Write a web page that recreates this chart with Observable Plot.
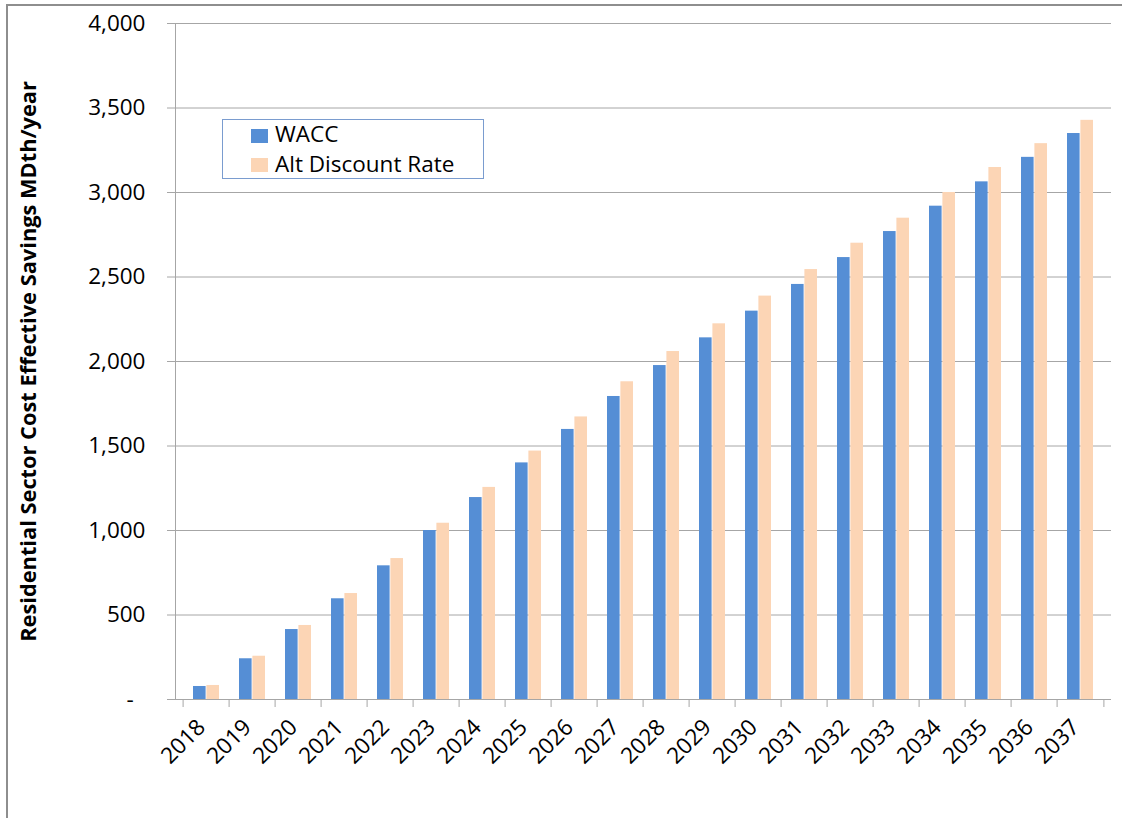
<!DOCTYPE html>
<html>
<head>
<meta charset="utf-8">
<script src="https://cdn.jsdelivr.net/npm/d3@7"></script>
<script src="https://cdn.jsdelivr.net/npm/@observablehq/plot@0.6"></script>
<style>
  body { margin: 0; background: #fff; font-family: "Open Sans", sans-serif; }
  #wrap { position: relative; width: 1122px; height: 818px; overflow: hidden; }
  #border { position: absolute; left: 6px; top: 4px; width: 1200px; height: 900px; border: 2px solid #8e8e8e; }
  #chart { position: absolute; left: 0; top: 0; }
  #legend { position: absolute; left: 222px; top: 119px; width: 260px; height: 58px; border: 1px solid #7a9ccf; background: #fff; font-size: 22.5px; line-height: 23px; color: #000; }
  .sw { position: absolute; left: 28px; width: 17px; height: 14px; }
  .lab { position: absolute; left: 52px; white-space: nowrap; }
</style>
</head>
<body>
<div id="wrap">
  <div id="border"></div>
  <div id="chart"></div>
  <div id="legend"></div>
</div>
<script>
const years = [2018, 2019, 2020, 2021, 2022, 2023, 2024, 2025, 2026, 2027,
               2028, 2029, 2030, 2031, 2032, 2033, 2034, 2035, 2036, 2037];
const wacc = [77, 241, 414, 596, 791, 1000, 1195, 1400, 1598, 1793,
              1976, 2140, 2298, 2456, 2615, 2769, 2919, 3063, 3208, 3349];
const altRate = [83, 256, 438, 627, 834, 1043, 1255, 1470, 1672, 1880,
                 2059, 2223, 2387, 2544, 2700, 2848, 3000, 3148, 3289, 3427];
const seriesNames = ["WACC", "Alt Discount Rate"];
const seriesColors = ["#558ed5", "#fcd5b5"];
const yTicks = [0, 500, 1000, 1500, 2000, 2500, 3000, 3500, 4000];
const yTitle = "Residential Sector Cost Effective Savings MDth/year";

const data = years.map((y, i) => ({year: y, wacc: wacc[i], alt: altRate[i]}));
const fmt = d3.format(",");
const half = 23.4;

const chart = Plot.plot({
  width: 1122,
  height: 818,
  marginLeft: 175,
  marginRight: 11,
  marginTop: 23,
  marginBottom: 119,
  style: {fontFamily: "'Open Sans', sans-serif", fontSize: "22.5px", color: "#000", background: "transparent"},
  x: {domain: years, padding: 0, axis: null},
  y: {domain: [0, 4000], axis: null},
  marks: [
    Plot.gridY(yTicks, {stroke: "#a6a6a6", strokeOpacity: 1}),
    Plot.frame({anchor: "left", stroke: "#a6a6a6"}),
    Plot.barY(data, {x: "year", y: "wacc", fill: seriesColors[0], insetLeft: 10, insetRight: half}),
    Plot.barY(data, {x: "year", y: "alt", fill: seriesColors[1], insetLeft: half, insetRight: 10}),
    Plot.ruleY([0], {stroke: "#a6a6a6"}),
    Plot.axisY(yTicks, {
      label: null, tickSize: 8, tickPadding: 22, stroke: "#a6a6a6", fill: "#000", fontSize: 22.5,
      tickFormat: d => d === 0 ? "-\u00a0\u00a0" : fmt(d)
    }),
    Plot.axisX(years, {label: null, tickSize: 8, dx: -half, stroke: "#a6a6a6", tickFormat: () => ""}),
    Plot.axisX([years[years.length - 1]], {label: null, tickSize: 8, dx: half, stroke: "#a6a6a6", tickFormat: () => ""}),
    Plot.axisX(years, {label: null, tickSize: 0, tickPadding: 24, dx: -5, tickRotate: -45, fill: "#000", fontSize: 22.5, tickFormat: d => `${d}`}),
    Plot.text([yTitle], {frameAnchor: "left", textAnchor: "middle", rotate: -90, dx: -146, fontWeight: "bold", fontSize: 21.8, fill: "#000"})
  ]
});
d3.select("#chart").append(() => chart);

// legend
const legend = d3.select("#legend");
seriesNames.forEach((name, i) => {
  legend.append("div").attr("class", "sw").style("top", (i === 0 ? 9 : 38) + "px").style("background", seriesColors[i]);
  legend.append("div").attr("class", "lab").style("top", (i === 0 ? 2 : 32) + "px").text(name);
});
</script>
</body>
</html>
